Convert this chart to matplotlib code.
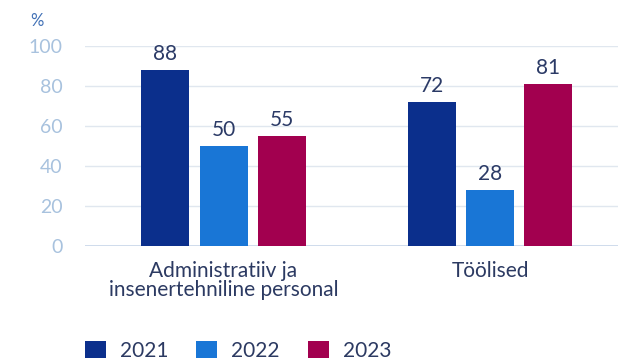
import numpy as np
import matplotlib.pyplot as plt
from matplotlib.patches import Patch

plt.rcParams['font.family'] = ['Lato', 'DejaVu Sans']

categories = ['Administratiiv ja\ninsenertehniline personal', 'Töölised']
years = ['2021', '2022', '2023']
v2021 = [88, 72]
v2022 = [50, 28]
v2023 = [55, 81]
series = [v2021, v2022, v2023]
colors = ['#0b2f8c', '#1976d6', '#a2004f']
yticks = [0, 20, 40, 60, 80, 100]

fig = plt.figure(figsize=(6.18, 3.6), dpi=100)
ax = fig.add_axes([0.1375, 0.3167, 0.8625, 0.5556])

x = np.arange(len(categories))
w = 0.18
step = 0.218
for i, (vals, c) in enumerate(zip(series, colors)):
    pos = x + (i - 1) * step
    ax.bar(pos, vals, width=w, color=c, zorder=3)
    for p, v in zip(pos, vals):
        ax.text(p, v + 3, str(v), ha='center', va='bottom', fontsize=15,
                color='#2b3a66', zorder=4)

ax.set_xlim(-0.52, 1.48)
ax.set_ylim(0, 100)
ax.set_yticks(yticks)
ax.set_yticklabels([str(t) for t in yticks])
ax.tick_params(axis='y', length=0, pad=16, labelsize=14, labelcolor='#a8c2de')
ax.set_xticks(x)
ax.set_xticklabels(categories, fontsize=15, color='#2c3a62', linespacing=0.9)
ax.tick_params(axis='x', length=0, pad=11)
ax.grid(axis='y', color='#e0e7ef', linewidth=1, zorder=0)
for s in ax.spines.values():
    s.set_visible(False)
ax.axhline(0, color='#c8d7ea', linewidth=1.2, zorder=2)

fig.text(36.5 / 618, 1 - 21 / 360, '%', fontsize=12, color='#3f6fb5',
         ha='center', va='center')

handles = [Patch(facecolor=c, label=y) for c, y in zip(colors, years)]
fig.legend(handles=handles, loc='center left', bbox_to_anchor=(85 / 618, 1 - 351 / 360),
           ncol=3, frameon=False, fontsize=15, handlelength=1.0, handleheight=0.87,
           handletextpad=0.67, columnspacing=1.35, borderpad=0, borderaxespad=0,
           labelcolor='#2c3a62')

fig.savefig('out.png', dpi=100)
